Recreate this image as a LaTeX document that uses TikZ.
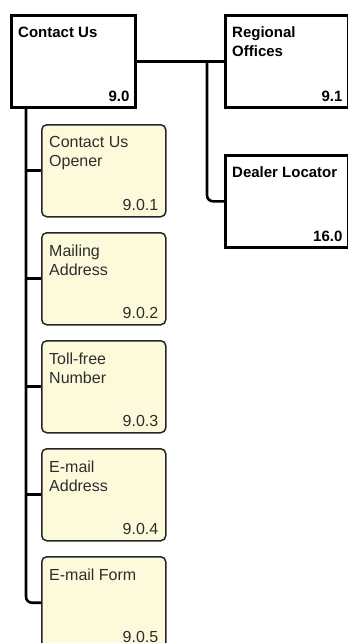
\documentclass[tikz,border=0pt]{standalone}
\usepackage{fontspec}
\setmainfont{Liberation Sans}
\usetikzlibrary{calc}

\definecolor{notefill}{RGB}{253,250,220}
\definecolor{notetext}{RGB}{45,45,45}

\begin{document}
\begin{tikzpicture}[
    x=1pt, y=-1pt,
    page/.style={
        draw,
        line width=2.6pt,
        fill=white,
        minimum width=124pt,
        minimum height=92pt,
        inner sep=0pt,
        anchor=north west,
    },
    note/.style={
        draw=black!85,
        line width=1.5pt,
        rounded corners=5pt,
        fill=notefill,
        minimum width=124pt,
        minimum height=92pt,
        inner sep=0pt,
        anchor=north west,
    },
    pagetitle/.style={anchor=north west, inner sep=0pt, align=left, font=\fontsize{15}{19}\selectfont\bfseries},
    pagenum/.style={anchor=base east, inner sep=0pt, font=\fontsize{15}{19}\selectfont\bfseries},
    notetitle/.style={anchor=north west, inner sep=0pt, align=left, text=notetext, font=\fontsize{16}{19}\selectfont},
    notenum/.style={anchor=base east, inner sep=0pt, text=notetext, font=\fontsize{16}{19}\selectfont},
    link/.style={line width=2.6pt},
]

\path[use as bounding box, clip] (0,0) rectangle (348,643);

\def\GAP{108}   %distance between the notes

% pages
\node[page] (cu) at (10,14)   {};
\node[pagetitle] (cu-t) at ([shift={(8,12.5)}]cu.north west) {Contact Us};
\node[pagenum]   (cu-n) at ([shift={(-7,-7)}]cu.south east) {9.0};

\node[page,minimum width=123pt] (ro) at (224,14) {};
\node[pagetitle] (ro-t) at ([shift={(8,12.5)}]ro.north west) {Regional\\Offices};
\node[pagenum]   (ro-n) at ([shift={(-7,-7)}]ro.south east) {9.1};

\node[page,minimum width=123pt] (dl) at (224,154) {};
\node[pagetitle] (dl-t) at ([shift={(8,12.5)}]dl.north west) {Dealer Locator};
\node[pagenum]   (dl-n) at ([shift={(-7,-7)}]dl.south east) {16.0};

% notes under Contact Us
\foreach \n/\t [count=\i] in {1/{Contact Us\\Opener},2/{Mailing\\Address},3/{Toll-free\\Number},4/{E-mail\\Address},5/{E-mail Form}}{
    \node[note] (n\n) at (41,{124+\GAP*(\i-1)}) {};
    \node[notetitle] (n\n-t) at ([shift={(8,12.5)}]n\n.north west) {\t};
    \node[notenum]   (n\n-n) at ([shift={(-8,-7)}]n\n.south east) {9.0.\n};
}

% connectors
\coordinate (sp) at ([xshift=16pt]cu.south west);
\coordinate (br) at ([xshift=-17pt]ro.west);

\draw[link] (cu.east) -- (ro.west);
\draw[link,rounded corners=6pt] (br) |- (dl.west);

\foreach \n in {1,...,4}
    \draw[link] (sp |- n\n.west) -- (n\n.west);
\draw[link,rounded corners=6pt] (sp) |- (n5.west);

\end{tikzpicture}
\end{document}
